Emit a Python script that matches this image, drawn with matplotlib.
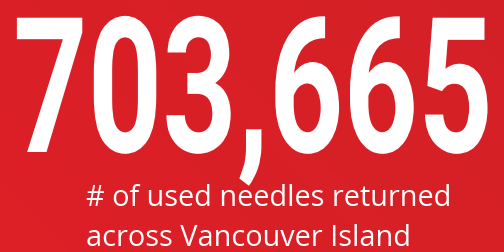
import numpy as np
import matplotlib
matplotlib.use("Agg")
import matplotlib.pyplot as plt
from matplotlib.patheffects import AbstractPathEffect
from matplotlib.transforms import Affine2D

# Headline figure and caption
total_returned = 703665
caption_lines = ["# of used needles returned", "across Vancouver Island"]

W, H = 504, 252
DPI = 100


class Squeeze(AbstractPathEffect):
    """Condense glyphs horizontally around a fixed x (display pixels)."""

    def __init__(self, sx, cx):
        super().__init__()
        self.sx = sx
        self.cx = cx

    def draw_path(self, renderer, gc, tpath, affine, rgbFace=None):
        squeeze = Affine2D().translate(-self.cx, 0).scale(self.sx, 1).translate(self.cx, 0)
        renderer.draw_path(gc, tpath, affine + squeeze, rgbFace)


fig = plt.figure(figsize=(W / DPI, H / DPI), dpi=DPI)

# red background with a faint diagonal gradient
bg = fig.add_axes([0, 0, 1, 1])
bg.set_axis_off()
xx, yy = np.meshgrid(np.linspace(0, 1, 200), np.linspace(0, 1, 100))
t = (xx + (1 - yy) * 0.5) / 1.5
c0 = np.array([222, 31, 38]) / 255
c1 = np.array([211, 33, 39]) / 255
img = c0[None, None, :] * (1 - t[..., None]) + c1[None, None, :] * t[..., None]
bg.imshow(img, extent=[0, 1, 0, 1], aspect="auto", origin="upper")
bg.set_xlim(0, 1)
bg.set_ylim(0, 1)

# big number
cx = 253
big = fig.text(cx / W, 1 - 152 / H, f"{total_returned:,}", color="white",
               fontsize=136, fontfamily="Roboto", fontweight="bold",
               ha="center", va="baseline")
fig.canvas.draw()
bb = big.get_window_extent()
big.set_path_effects([Squeeze(480 / bb.width, cx)])

# caption
for i, line in enumerate(caption_lines):
    fig.text(86 / W, 1 - (206 + 40 * i) / H, line, color="white",
             fontsize=20.8, fontfamily="Open Sans", ha="left", va="baseline")

fig.savefig("out.png", dpi=DPI)
